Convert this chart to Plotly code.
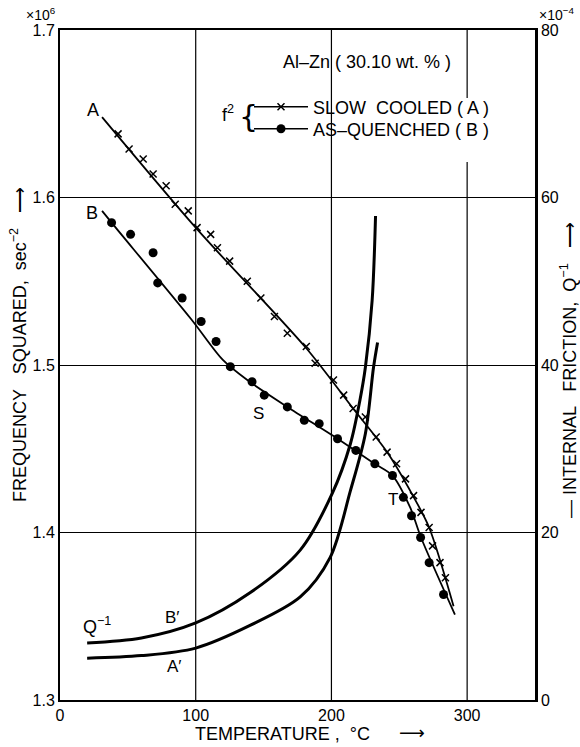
import plotly.graph_objects as go

# ---------------- data ----------------
# Slow cooled (A): frequency squared (x10^6 s^-2)
a_line_T = [31, 100, 181.5, 216, 241, 260, 272, 290]
a_line_f = [1.648, 1.582, 1.510, 1.474, 1.448, 1.422, 1.403, 1.356]
a_pts_T = [42.8, 50.9, 61.3, 68.6, 78.2, 84.9, 94.5, 101, 111, 116, 125, 138, 148, 158,
           167.5, 181.5, 188, 201.5, 209, 216, 225, 233, 241, 248, 254.6, 260.5, 266,
           272, 274.5, 280, 284]
a_pts_f = [1.638, 1.629, 1.623, 1.614, 1.607, 1.596, 1.592, 1.582, 1.578, 1.570, 1.562,
           1.550, 1.540, 1.529, 1.519, 1.511, 1.501, 1.491, 1.482, 1.474, 1.469, 1.457,
           1.448, 1.441, 1.432, 1.422, 1.412, 1.403, 1.392, 1.382, 1.373]

# As-quenched (B)
b_line_T = [31, 38, 97, 120, 138, 167.5, 204.5, 232, 245, 258, 266, 291]
b_line_f = [1.592, 1.585, 1.527, 1.503, 1.491, 1.475, 1.456, 1.441, 1.434, 1.415, 1.397, 1.351]
b_pts_T = [38, 52, 68.6, 72, 90, 104, 115, 125.5, 141.5, 150.5, 167.5, 180, 191, 204.5,
           218, 232, 245, 253, 259, 265.7, 272, 282.6]
b_pts_f = [1.585, 1.578, 1.567, 1.549, 1.540, 1.526, 1.514, 1.499, 1.490, 1.482, 1.475,
           1.467, 1.465, 1.456, 1.449, 1.441, 1.434, 1.421, 1.410, 1.397, 1.382, 1.363]

# Internal friction Q^-1 (x10^-4)
qb_T = [20, 60, 100, 140, 177, 200.7, 214, 221, 225, 230, 232.5]
qb_Q = [6.8, 7.4, 9.2, 12.8, 17.9, 24.7, 30.6, 35.8, 39.7, 47.7, 57.8]
qa_T = [20, 60, 100, 140, 177, 199, 214, 225, 231, 234]
qa_Q = [5.0, 5.3, 6.2, 8.9, 12.3, 17.0, 25.0, 31.8, 39.7, 42.7]

x_ticks = [0, 100, 200, 300]
y_ticks = [1.3, 1.4, 1.5, 1.6, 1.7]
y_ticktext = ["1.3", "1.4", "1.5", "1.6", "1.7"]
y2_ticks = [0, 20, 40, 60, 80]

FONT = "Liberation Sans, Arial, sans-serif"
BLK = "black"

fig = go.Figure()

# A line + crosses
fig.add_trace(go.Scatter(x=a_line_T, y=a_line_f, mode="lines",
                         line=dict(color=BLK, width=1.8, shape="spline", smoothing=0.8),
                         showlegend=False, hoverinfo="skip"))
fig.add_trace(go.Scatter(x=a_pts_T, y=a_pts_f, mode="markers",
                         marker=dict(symbol="x-thin", size=7, line=dict(width=1.5, color=BLK)),
                         showlegend=False))
# B line + dots
fig.add_trace(go.Scatter(x=b_line_T, y=b_line_f, mode="lines",
                         line=dict(color=BLK, width=1.8, shape="spline", smoothing=0.8),
                         showlegend=False, hoverinfo="skip"))
fig.add_trace(go.Scatter(x=b_pts_T, y=b_pts_f, mode="markers",
                         marker=dict(symbol="circle", size=9, color=BLK),
                         showlegend=False))
# Q^-1 curves
fig.add_trace(go.Scatter(x=qb_T, y=qb_Q, yaxis="y2", mode="lines",
                         line=dict(color=BLK, width=3, shape="spline", smoothing=0.9),
                         showlegend=False))
fig.add_trace(go.Scatter(x=qa_T, y=qa_Q, yaxis="y2", mode="lines",
                         line=dict(color=BLK, width=3, shape="spline", smoothing=0.9),
                         showlegend=False))

# legend entries (one legend per row to control spacing)
fig.add_trace(go.Scatter(x=[None], y=[None], mode="lines+markers", name="SLOW  COOLED ( A )",
                         line=dict(color=BLK, width=1.5), legend="legend",
                         marker=dict(symbol="x-thin", size=7, line=dict(width=1.5, color=BLK))))
fig.add_trace(go.Scatter(x=[None], y=[None], mode="lines+markers", name="AS\u2013QUENCHED ( B )",
                         line=dict(color=BLK, width=1.5), legend="legend2",
                         marker=dict(symbol="circle", size=9, color=BLK)))

# vertical grid lines (300 line interrupted by the legend)
shapes = []
for v in x_ticks[1:]:
    if v == 300:
        segs = [(0, 0.803), (0.8985, 1)]
    else:
        segs = [(0, 1)]
    for y0, y1 in segs:
        shapes.append(dict(type="line", xref="x", yref="paper", x0=v, x1=v, y0=y0, y1=y1,
                           line=dict(color=BLK, width=1.2), layer="below"))

ann = []
def txt(x, y, t, size=16, xref="x", yref="y", **kw):
    d = dict(x=x, y=y, text=t, xref=xref, yref=yref, showarrow=False,
             xanchor="center", yanchor="middle",
             font=dict(family=FONT, size=size, color=BLK))
    d.update(kw)
    ann.append(d)

def px(xp):
    return (xp - 60) / 475

def py(yp):
    return (700 - yp) / 670

txt(24.4, 1.652, "A", 18)
txt(23.6, 1.591, "B", 18)
txt(146, 1.471, "S", 17)
txt(245, 1.420, "T", 17)
txt(27.3, 8.9, "Q<sup>\u22121</sup>", 18, yref="y2")
txt(82.6, 9.8, "B\u2032", 17, yref="y2")
txt(84.7, 4.0, "A\u2032", 17, yref="y2")
txt(px(367), py(62), "Al\u2013Zn ( 30.10 wt. % )", 18, xref="paper", yref="paper")
txt(px(228), py(113), "f<sup>2</sup>", 18, xref="paper", yref="paper")
txt(px(248), py(117), "{", 30, xref="paper", yref="paper",
    font=dict(family="DejaVu Sans", size=30, color=BLK))
txt(px(41), py(14), "\u00d710<sup>6</sup>", 14, xref="paper", yref="paper")
txt(px(556), py(14), "\u00d710<sup>\u22124</sup>", 14, xref="paper", yref="paper")
# axis titles
txt(px(282), py(734), "TEMPERATURE ,  \u00b0C", 18, xref="paper", yref="paper")
txt(px(412), py(732), "\u27f6", 18, xref="paper", yref="paper",
    font=dict(family="DejaVu Sans", size=18, color=BLK))
txt(px(18), py(345), "FREQUENCY   SQUARED,  sec<sup>\u22122</sup>   \u27f6", 18,
    xref="paper", yref="paper", textangle=-90)
txt(px(568), py(370), "\u2014 INTERNAL   FRICTION,  Q<sup>\u22121</sup>   \u27f6", 18,
    xref="paper", yref="paper", textangle=-90)

leg_common = dict(xanchor="left", yanchor="middle", bgcolor="rgba(0,0,0,0)",
                  font=dict(family=FONT, size=18, color=BLK), itemwidth=54,
                  borderwidth=0)

fig.update_layout(
    width=580, height=747,
    margin=dict(l=60, r=45, t=30, b=47),
    paper_bgcolor="white", plot_bgcolor="white",
    font=dict(family=FONT, size=16, color=BLK),
    showlegend=True,
    legend=dict(x=px(249), y=py(107), **leg_common),
    legend2=dict(x=px(249), y=py(129), **leg_common),
    xaxis=dict(range=[0, 350], tickvals=x_ticks, showgrid=False, zeroline=False,
               showline=True, linecolor=BLK, linewidth=2, mirror=True, ticks="",
               tickfont=dict(size=16)),
    yaxis=dict(range=[1.3, 1.7], tickvals=y_ticks, ticktext=y_ticktext, showgrid=True,
               gridcolor=BLK, gridwidth=1.2, zeroline=False, showline=True, linecolor=BLK,
               linewidth=2, ticks="", tickfont=dict(size=16)),
    yaxis2=dict(range=[0, 80], tickvals=y2_ticks, overlaying="y", side="right",
                showgrid=False, zeroline=False, showline=True, linecolor=BLK, linewidth=2.5,
                ticks="", tickfont=dict(size=16)),
    shapes=shapes,
    annotations=ann,
)

fig.write_html("out.html")
